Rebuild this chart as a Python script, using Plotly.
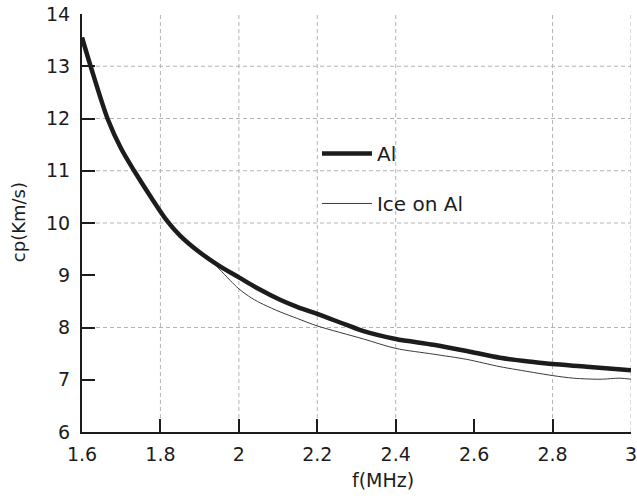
import plotly.graph_objects as go

# Phase velocity dispersion: bare aluminium plate vs. ice layer on aluminium
freq_al = [1.6, 1.622, 1.665, 1.7, 1.733, 1.778, 1.816, 1.85, 1.9, 1.952,
           2.0, 2.05, 2.105, 2.15, 2.2, 2.271, 2.318, 2.4, 2.496, 2.581, 2.666,
           2.751, 2.8, 2.887, 3.0]
cp_al = [13.55, 13.0, 12.0, 11.42, 11.0, 10.47, 10.05, 9.76, 9.44, 9.17,
         8.96, 8.74, 8.53, 8.39, 8.26, 8.06, 7.93, 7.78, 7.67, 7.55, 7.42,
         7.34, 7.30, 7.25, 7.18]

freq_ice = [1.6, 1.622, 1.665, 1.7, 1.733, 1.778, 1.816, 1.85, 1.9, 1.922, 1.95,
            1.978, 2.0, 2.033, 2.063, 2.105, 2.15, 2.2, 2.318, 2.4, 2.496, 2.581,
            2.666, 2.751, 2.8, 2.853, 2.921, 2.972, 3.0]
cp_ice = [13.55, 13.0, 12.0, 11.42, 11.0, 10.47, 10.05, 9.76, 9.44, 9.33, 9.12,
          8.90, 8.74, 8.56, 8.44, 8.30, 8.17, 8.03, 7.78, 7.60, 7.49, 7.39,
          7.25, 7.14, 7.08, 7.03, 7.01, 7.03, 7.01]

x_ticks = [1.6, 1.8, 2.0, 2.2, 2.4, 2.6, 2.8, 3.0]
x_tick_text = ["1.6", "1.8", "2", "2.2", "2.4", "2.6", "2.8", "3"]
y_ticks = [6, 7, 8, 9, 10, 11, 12, 13, 14]
grid_x = [1.8, 2.0, 2.2, 2.4, 2.8, 3.0]
grid_y = [8, 10, 11, 12, 13]

FONT = "DejaVu Sans"
INK = "#1c1c1c"
GRID = "#b4b4b4"

fig = go.Figure()

# thin series first so the thick one sits on top where they coincide
fig.add_trace(go.Scatter(
    x=freq_ice, y=cp_ice, mode="lines", name="Ice on Al",
    line=dict(color="#3a3a3a", width=1, shape="spline", smoothing=0.8),
    legendgroup="b", legendrank=2,
))
fig.add_trace(go.Scatter(
    x=freq_al, y=cp_al, mode="lines", name="Al",
    line=dict(color=INK, width=4.5, shape="spline", smoothing=0.8),
    legendgroup="a", legendrank=1,
))

shapes = []
for gx in grid_x:
    shapes.append(dict(type="line", xref="x", yref="y", x0=gx, x1=gx, y0=6, y1=14,
                       line=dict(color=GRID, width=1, dash="4px,3px"), layer="below"))
for gy in grid_y:
    shapes.append(dict(type="line", xref="x", yref="y", x0=1.6, x1=3.0, y0=gy, y1=gy,
                       line=dict(color=GRID, width=1, dash="4px,3px"), layer="below"))

annotations = [
    dict(text="f(MHz)", xref="paper", yref="paper", x=0.548, y=-0.115,
         xanchor="center", yanchor="middle", showarrow=False,
         font=dict(family=FONT, size=19, color=INK)),
    dict(text="cp(Km/s)", xref="paper", yref="paper", x=-0.1166, y=0.502,
         xanchor="center", yanchor="middle", showarrow=False, textangle=-90,
         font=dict(family=FONT, size=18, color=INK)),
]

fig.update_layout(
    width=637, height=500,
    margin=dict(l=82, r=6, t=14, b=68),
    paper_bgcolor="white", plot_bgcolor="white",
    font=dict(family=FONT, size=19, color=INK),
    shapes=shapes,
    annotations=annotations,
    showlegend=True,
    legend=dict(
        x=0.428, y=0.713, xanchor="left", yanchor="top",
        bgcolor="rgba(0,0,0,0)", borderwidth=0,
        font=dict(family=FONT, size=20, color=INK),
        tracegroupgap=21, itemwidth=50, traceorder="grouped",
    ),
    xaxis=dict(
        range=[1.6, 3.0], tickvals=x_ticks, ticktext=x_tick_text,
        showgrid=False, zeroline=False, automargin=False,
        showline=True, linecolor=INK, linewidth=2,
        ticks="inside", ticklen=13, tickwidth=2, tickcolor=INK,
        tickfont=dict(family=FONT, size=19, color=INK),
        ticklabelstandoff=4, ticklabeloverflow="allow",
    ),
    yaxis=dict(
        range=[6, 14], tickvals=y_ticks,
        showgrid=False, zeroline=False, automargin=False,
        showline=True, linecolor=INK, linewidth=2,
        ticks="inside", ticklen=13, tickwidth=2, tickcolor=INK,
        tickfont=dict(family=FONT, size=19, color=INK),
        ticklabelstandoff=6, ticklabeloverflow="allow",
    ),
)

fig.write_html("out.html")
